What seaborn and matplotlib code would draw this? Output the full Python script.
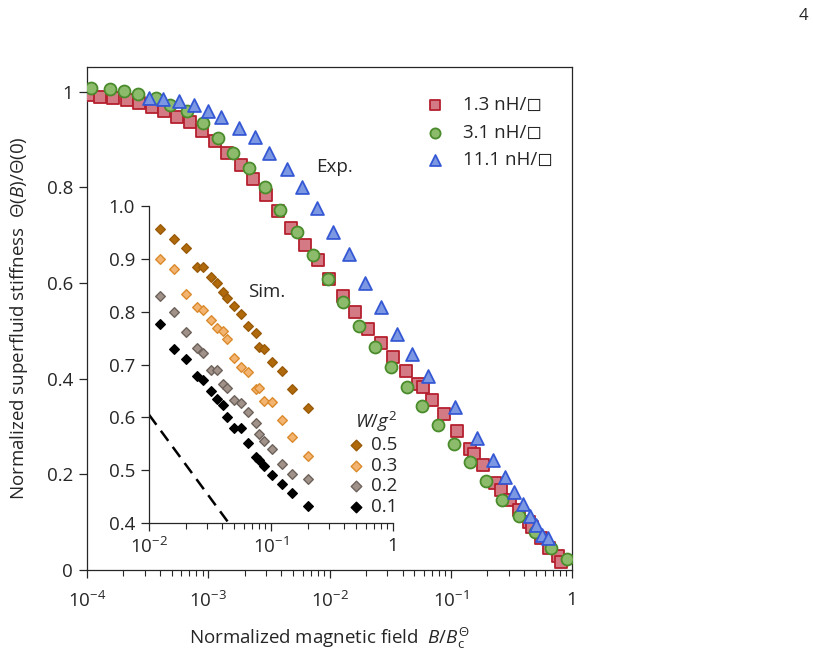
import numpy as np
import pandas as pd
import matplotlib
matplotlib.use("Agg")
import matplotlib.pyplot as plt
import matplotlib.ticker as mticker
import seaborn as sns

# Experimental data (normalized field, normalized stiffness)
x_13 = [1.03e-4, 1.28e-4, 1.63e-4, 2.12e-4, 2.69e-4, 3.42e-4, 4.35e-4, 5.50e-4, 7.06e-4, 8.93e-4,
        1.14e-3, 1.44e-3, 1.85e-3, 2.36e-3, 2.99e-3, 3.78e-3, 4.81e-3, 6.28e-3, 8.09e-3, 9.95e-3,
        0.0128, 0.0162, 0.0207, 0.0264, 0.0336, 0.0428, 0.0540, 0.0587, 0.0697, 0.0881,
        0.113, 0.144, 0.156, 0.183, 0.230, 0.262, 0.308, 0.362, 0.440, 0.470,
        0.552, 0.649, 0.762, 0.815]
y_13 = [0.994, 0.990, 0.987, 0.982, 0.976, 0.969, 0.961, 0.948, 0.936, 0.918,
        0.897, 0.873, 0.847, 0.818, 0.785, 0.750, 0.715, 0.680, 0.649, 0.609,
        0.573, 0.540, 0.505, 0.475, 0.445, 0.416, 0.388, 0.382, 0.356, 0.326,
        0.291, 0.254, 0.243, 0.219, 0.182, 0.168, 0.147, 0.126, 0.100, 0.090,
        0.066, 0.045, 0.030, 0.017]

x_31 = [1.07e-4, 1.55e-4, 2.03e-4, 2.65e-4, 3.71e-4, 4.84e-4, 6.64e-4, 8.99e-4, 1.21e-3, 1.61e-3,
        2.18e-3, 2.94e-3, 3.91e-3, 5.36e-3, 7.26e-3, 9.77e-3, 0.0130, 0.0176, 0.0237, 0.0320,
        0.0434, 0.0583, 0.0789, 0.107, 0.144, 0.196, 0.265, 0.362, 0.494, 0.670, 0.910]
y_31 = [1.008, 1.006, 1.002, 0.996, 0.987, 0.973, 0.959, 0.935, 0.904, 0.873,
        0.840, 0.802, 0.753, 0.706, 0.658, 0.608, 0.560, 0.510, 0.466, 0.424,
        0.383, 0.344, 0.304, 0.264, 0.226, 0.186, 0.147, 0.112, 0.079, 0.047, 0.024]

x_111 = [3.27e-4, 4.26e-4, 5.77e-4, 7.62e-4, 1.00e-3, 1.27e-3, 1.80e-3, 2.43e-3, 3.19e-3, 4.49e-3,
         5.97e-3, 7.93e-3, 0.0106, 0.0146, 0.0196, 0.0264, 0.0358, 0.0482, 0.0645, 0.109,
         0.166, 0.223, 0.279, 0.335, 0.392, 0.446, 0.507, 0.563, 0.628]
y_111 = [0.987, 0.985, 0.980, 0.973, 0.961, 0.947, 0.924, 0.905, 0.872, 0.838,
         0.800, 0.757, 0.706, 0.661, 0.600, 0.551, 0.493, 0.452, 0.406, 0.340,
         0.276, 0.229, 0.195, 0.163, 0.138, 0.113, 0.095, 0.074, 0.067]

exp_labels = ["1.3 nH/\u25fb", "3.1 nH/\u25fb", "11.1 nH/\u25fb"]

# Simulation data (inset)
x_sim = [0.0123, 0.0160, 0.0201, 0.0246, 0.0279, 0.0320, 0.0359, 0.0402, 0.0439, 0.0500,
         0.0567, 0.0644, 0.0750, 0.0800, 0.0880, 0.101, 0.122, 0.150, 0.202]
y_w05 = [0.956, 0.937, 0.920, 0.885, 0.884, 0.865, 0.855, 0.838, 0.826, 0.810,
         0.796, 0.773, 0.759, 0.734, 0.729, 0.704, 0.687, 0.654, 0.617]
y_w03 = [0.900, 0.880, 0.833, 0.808, 0.803, 0.784, 0.770, 0.764, 0.748, 0.712,
         0.695, 0.685, 0.653, 0.656, 0.630, 0.629, 0.595, 0.562, 0.526]
y_w02 = [0.830, 0.800, 0.762, 0.732, 0.721, 0.690, 0.690, 0.663, 0.655, 0.633,
         0.627, 0.611, 0.589, 0.568, 0.555, 0.540, 0.512, 0.493, 0.483]
y_w01 = [0.776, 0.729, 0.710, 0.678, 0.670, 0.649, 0.634, 0.623, 0.600, 0.579,
         0.579, 0.552, 0.524, 0.519, 0.508, 0.491, 0.474, 0.457, 0.432]
w_labels = ["0.5", "0.3", "0.2", "0.1"]

# dashed reference line in inset
x_dash = [0.0100, 0.0450]
y_dash = [0.605, 0.400]

main_xticks = [1e-4, 1e-3, 1e-2, 1e-1, 1]
main_xticklabels = ["$10^{-4}$", "$10^{-3}$", "$10^{-2}$", "$10^{-1}$", "1"]
main_yticks = [0, 0.2, 0.4, 0.6, 0.8, 1]
main_yticklabels = ["0", "0.2", "0.4", "0.6", "0.8", "1"]
ins_xticks = [1e-2, 1e-1, 1]
ins_xticklabels = ["$10^{-2}$", "$10^{-1}$", "1"]
ins_yticks = [0.4, 0.5, 0.6, 0.7, 0.8, 0.9, 1.0]

FS = 13.5

# Style
sns.set_style("ticks")
plt.rcParams["font.family"] = ["Open Sans", "DejaVu Sans"]
plt.rcParams["mathtext.fontset"] = "custom"
plt.rcParams["mathtext.rm"] = "Open Sans"
plt.rcParams["mathtext.it"] = "Open Sans:italic"
plt.rcParams["font.size"] = FS
plt.rcParams["axes.linewidth"] = 0.9
plt.rcParams["xtick.direction"] = "out"
plt.rcParams["ytick.direction"] = "out"

EXP_STYLE = [
    dict(marker="s", s=66, color="#d47a84", edgecolor="#b5202e"),
    dict(marker="o", s=74, color="#8dbb6c", edgecolor="#4a8c2c"),
    dict(marker="^", s=86, color="#7d98e2", edgecolor="#3558d4"),
]
SIM_STYLE = [
    dict(color="#b06a0c", edgecolor="#9a5a08"),
    dict(color="#f2b470", edgecolor="#dc8a2c"),
    dict(color="#a09289", edgecolor="#6e625c"),
    dict(color="#000000", edgecolor="#000000"),
]

fig = plt.figure(figsize=(8.13, 6.55), dpi=100)
ax = fig.add_axes([0.107, 0.1298, 0.5966, 0.7679])

for xs, ys, lab, st in zip([x_13, x_31, x_111], [y_13, y_31, y_111], exp_labels, EXP_STYLE):
    df = pd.DataFrame({"x": xs, "y": ys})
    sns.scatterplot(data=df, x="x", y="y", ax=ax, label=lab, linewidth=1.3,
                    zorder=3, **st)

ax.set_xscale("log")
ax.set_xlim(1e-4, 1)
ax.set_ylim(0, 1.052)
ax.set_xticks(main_xticks)
ax.set_xticklabels(main_xticklabels)
ax.xaxis.set_minor_locator(mticker.LogLocator(base=10, subs=np.arange(2, 10), numticks=20))
ax.xaxis.set_minor_formatter(mticker.NullFormatter())
ax.set_yticks(main_yticks)
ax.set_yticklabels(main_yticklabels)
ax.tick_params(axis="both", which="major", length=6, width=0.9, labelsize=FS, pad=4)
ax.tick_params(axis="x", which="major", pad=9)
ax.tick_params(axis="x", which="minor", length=4, width=0.8)
ax.set_xlabel(r"Normalized magnetic field  $B/B_\mathrm{c}^{\Theta}$", fontsize=FS, labelpad=11)
ax.set_ylabel("Normalized superfluid stiffness  $\\mathit{\u0398(B)/\u0398(0)}$",
              fontsize=FS, labelpad=12)
ax.text(0.00775, 0.843, "Exp.", fontsize=FS, ha="left", va="center")

ax.legend(loc="upper left", bbox_to_anchor=(416 / 813, 1 - 87 / 655),
          bbox_transform=fig.transFigure, frameon=False, fontsize=FS,
          labelspacing=0.5, handlelength=1.0, handletextpad=1.0, borderpad=0,
          markerscale=0.85)

# Inset
axin = fig.add_axes([149 / 813, (655 - 523) / 655, 244 / 813, 317 / 655])
axin.patch.set_alpha(0)
for ys, lab, st in zip([y_w05, y_w03, y_w02, y_w01], w_labels, SIM_STYLE):
    df = pd.DataFrame({"x": x_sim, "y": ys})
    sns.scatterplot(data=df, x="x", y="y", ax=axin, marker="D", s=24, linewidth=1.0,
                    label=lab, zorder=3, **st)
sns.lineplot(x=x_dash, y=y_dash, ax=axin, color="black", linestyle=(0, (5, 3)),
             linewidth=1.8, zorder=2)

axin.set_xscale("log")
axin.set_xlim(1e-2, 1)
axin.set_ylim(0.4, 1.0)
axin.set_xticks(ins_xticks)
axin.set_xticklabels(ins_xticklabels)
axin.xaxis.set_minor_locator(mticker.LogLocator(base=10, subs=np.arange(2, 10), numticks=20))
axin.xaxis.set_minor_formatter(mticker.NullFormatter())
axin.set_yticks(ins_yticks)
axin.set_yticklabels([f"{v:.1f}" for v in ins_yticks])
axin.tick_params(axis="both", which="major", length=6, width=0.9, labelsize=FS, pad=4)
axin.tick_params(axis="x", which="minor", length=4, width=0.8)
axin.spines["top"].set_visible(False)
axin.spines["right"].set_visible(False)
axin.set_xlabel("")
axin.set_ylabel("")
axin.text(0.0647, 0.8375, "Sim.", fontsize=FS, ha="left", va="center")

axin.legend(title="$W/g^2$", loc="lower left", bbox_to_anchor=(337 / 813, 1 - 525 / 655),
            bbox_transform=fig.transFigure, frameon=False, fontsize=FS, title_fontsize=FS,
            labelspacing=0.13, handletextpad=0.3, borderpad=0, handlelength=1.0,
            markerscale=1.1, alignment="right")

fig.text(0.994, 0.975, "4", fontsize=12, ha="right", va="center")

fig.savefig("out.png", dpi=100)
plt.close(fig)
